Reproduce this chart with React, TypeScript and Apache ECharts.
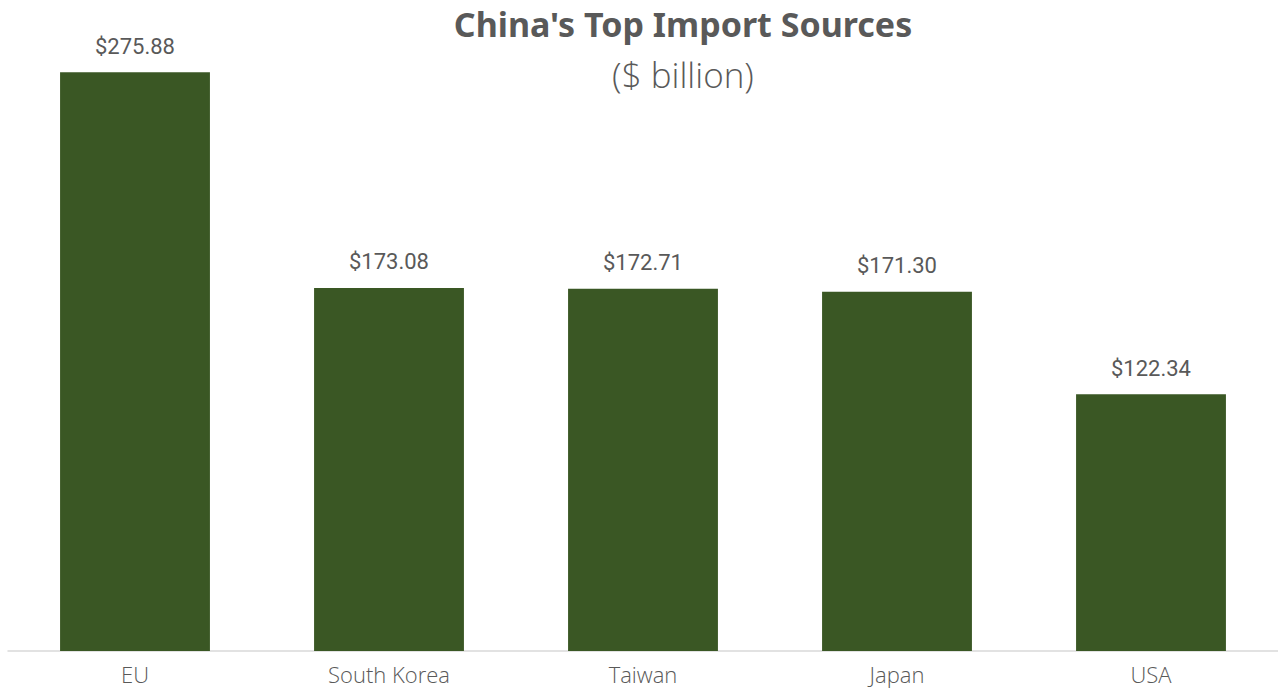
import React, { useEffect, useRef } from "react";
import * as echarts from "echarts";

const categories = ["EU", "South Korea", "Taiwan", "Japan", "USA"];
const values = [275.88, 173.08, 172.71, 171.3, 122.34];

export default function App() {
  const ref = useRef<HTMLDivElement>(null);
  useEffect(() => {
    if (!ref.current) return;
    const chart = echarts.init(ref.current, undefined, { renderer: "svg" });
    chart.setOption({
      animation: false,
      backgroundColor: "#ffffff",
      title: {
        text: "China's Top Import Sources",
        subtext: "($ billion)",
        left: 678,
        textAlign: "center",
        top: 2,
        itemGap: 16,
        textStyle: {
          fontFamily: "Noto Sans",
          fontSize: 34,
          fontWeight: "bold",
          color: "#595959",
        },
        subtextStyle: {
          fontFamily: "Open Sans",
          fontSize: 35,
          fontWeight: 300,
          color: "#595959",
        },
      },
      grid: { left: 8, right: -4, top: 21.7, bottom: 38.1, containLabel: false },
      xAxis: {
        type: "category",
        data: categories,
        axisLine: { lineStyle: { color: "#D9D9D9", width: 1.5 } },
        axisTick: { show: false },
        axisLabel: {
          fontFamily: "Open Sans",
          fontSize: 22,
          fontWeight: 300,
          color: "#595959",
          margin: 12,
        },
      },
      yAxis: {
        type: "value",
        min: 0,
        max: 300,
        show: false,
        splitLine: { show: false },
      },
      series: [
        {
          type: "bar",
          data: values,
          barCategoryGap: "41%",
          itemStyle: { color: "#3A5724" },
          label: {
            show: true,
            position: "top",
            distance: 15,
            fontFamily: "Roboto",
            fontSize: 22,
            color: "#595959",
            formatter: (p: any) => "$" + Number(p.value).toFixed(2),
          },
        },
      ],
    });
    return () => chart.dispose();
  }, []);
  return (
    <div
      ref={ref}
      style={{ position: "fixed", left: 0, top: 0, width: 1278, height: 689 }}
    />
  );
}
